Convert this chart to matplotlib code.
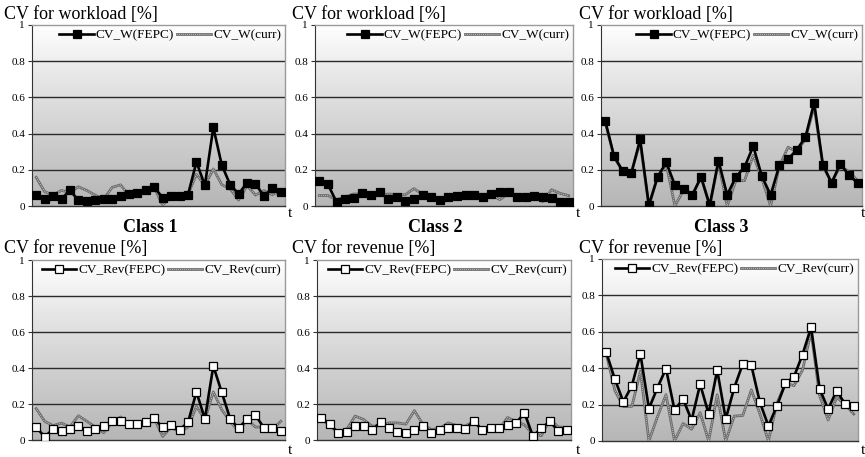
import numpy as np
import matplotlib
matplotlib.use("Agg")
import matplotlib.pyplot as plt
from matplotlib.colors import LinearSegmentedColormap
from matplotlib.lines import Line2D
from matplotlib.legend_handler import HandlerTuple

plt.rcParams['font.family'] = ['Liberation Serif', 'DejaVu Serif']

t = np.arange(1, 31)

# Coefficient of variation of workload, per class
w_fepc_1 = [0.060, 0.040, 0.055, 0.040, 0.086, 0.032, 0.027, 0.032, 0.040, 0.038,
            0.057, 0.065, 0.073, 0.086, 0.103, 0.046, 0.053, 0.053, 0.063, 0.243,
            0.114, 0.434, 0.227, 0.117, 0.067, 0.128, 0.124, 0.053, 0.101, 0.078]
w_curr_1 = [0.158, 0.079, 0.062, 0.086, 0.075, 0.106, 0.086, 0.060, 0.038, 0.103,
            0.117, 0.057, 0.065, 0.087, 0.100, 0.005, 0.055, 0.047, 0.065, 0.175,
            0.112, 0.205, 0.118, 0.095, 0.033, 0.113, 0.060, 0.085, 0.062, 0.085]
w_fepc_2 = [0.137, 0.120, 0.022, 0.039, 0.043, 0.073, 0.062, 0.075, 0.041, 0.049,
            0.027, 0.037, 0.061, 0.050, 0.031, 0.049, 0.058, 0.062, 0.062, 0.048,
            0.067, 0.075, 0.075, 0.048, 0.048, 0.056, 0.052, 0.043, 0.022, 0.022]
w_curr_2 = [0.058, 0.058, 0.035, 0.050, 0.066, 0.068, 0.054, 0.060, 0.066, 0.064,
            0.062, 0.096, 0.066, 0.053, 0.040, 0.053, 0.061, 0.061, 0.066, 0.053,
            0.060, 0.035, 0.070, 0.060, 0.055, 0.045, 0.025, 0.090, 0.070, 0.057]
w_fepc_3 = [0.468, 0.275, 0.193, 0.182, 0.369, 0.004, 0.160, 0.242, 0.114, 0.094,
            0.061, 0.160, 0.004, 0.251, 0.061, 0.160, 0.215, 0.330, 0.163, 0.061,
            0.224, 0.259, 0.310, 0.380, 0.571, 0.229, 0.127, 0.233, 0.171, 0.127]
w_curr_3 = [0.460, 0.270, 0.190, 0.190, 0.350, 0.000, 0.160, 0.230, 0.000, 0.090,
            0.060, 0.160, 0.000, 0.240, 0.000, 0.140, 0.140, 0.280, 0.150, 0.000,
            0.220, 0.325, 0.300, 0.370, 0.550, 0.220, 0.130, 0.220, 0.190, 0.140]

# Coefficient of variation of revenue, per class
r_fepc_1 = [0.072, 0.017, 0.061, 0.048, 0.061, 0.076, 0.050, 0.061, 0.076, 0.104,
            0.106, 0.087, 0.087, 0.098, 0.120, 0.070, 0.085, 0.057, 0.098, 0.267,
            0.117, 0.411, 0.265, 0.117, 0.065, 0.117, 0.139, 0.067, 0.067, 0.050]
r_curr_1 = [0.174, 0.104, 0.080, 0.094, 0.072, 0.135, 0.104, 0.072, 0.040, 0.098,
            0.128, 0.087, 0.087, 0.098, 0.120, 0.020, 0.072, 0.043, 0.072, 0.187,
            0.113, 0.267, 0.168, 0.104, 0.046, 0.113, 0.072, 0.072, 0.057, 0.104]
r_fepc_2 = [0.125, 0.088, 0.039, 0.047, 0.080, 0.080, 0.054, 0.099, 0.065, 0.047,
            0.039, 0.058, 0.080, 0.039, 0.054, 0.069, 0.069, 0.062, 0.103, 0.058,
            0.065, 0.065, 0.084, 0.092, 0.151, 0.021, 0.065, 0.103, 0.050, 0.058]
r_curr_2 = [0.121, 0.077, 0.047, 0.058, 0.133, 0.114, 0.077, 0.080, 0.095, 0.095,
            0.088, 0.163, 0.088, 0.058, 0.065, 0.095, 0.080, 0.077, 0.103, 0.058,
            0.065, 0.058, 0.125, 0.103, 0.084, 0.032, 0.024, 0.114, 0.073, 0.069]
r_fepc_3 = [0.487, 0.341, 0.215, 0.304, 0.478, 0.178, 0.293, 0.398, 0.170, 0.231,
            0.114, 0.312, 0.149, 0.390, 0.121, 0.293, 0.424, 0.416, 0.213, 0.083,
            0.193, 0.317, 0.353, 0.475, 0.625, 0.287, 0.175, 0.277, 0.201, 0.191]
r_curr_3 = [0.480, 0.278, 0.189, 0.190, 0.383, 0.000, 0.133, 0.255, 0.000, 0.096,
            0.065, 0.156, 0.000, 0.254, 0.000, 0.137, 0.140, 0.281, 0.150, 0.000,
            0.207, 0.318, 0.304, 0.390, 0.600, 0.250, 0.115, 0.240, 0.200, 0.148]

class_names = ["Class 1", "Class 2", "Class 3"]
yticks = [0, 0.2, 0.4, 0.6, 0.8, 1]
ytick_labels = ["0", "0.2", "0.4", "0.6", "0.8", "1"]

W, H = 865, 457
fig = plt.figure(figsize=(W / 100, H / 100), dpi=100)

def px_axes(x0, y0, x1, y1):
    return fig.add_axes([x0 / W, 1 - y1 / H, (x1 - x0) / W, (y1 - y0) / H])

bg_cmap = LinearSegmentedColormap.from_list(
    "bg", [(0.0, "#b6b6b6"), (0.35, "#cdcdcd"), (0.7, "#e6e6e6"), (1.0, "#ffffff")])

CURR_GREY = '#6e6e6e'

def panel(ax, fepc, curr, lab_fepc, lab_curr, marker_face):
    ax.set_xlim(0.5, 30.5)
    ax.set_ylim(0, 1)
    grad = np.linspace(0, 1, 256)[:, None]
    ax.imshow(grad, extent=[0.5, 30.5, 0, 1], aspect='auto', cmap=bg_cmap,
              origin='lower', zorder=0, interpolation='bilinear')
    for g in yticks[1:-1]:
        ax.axhline(g, color='#2a2a2a', lw=1.0, zorder=1)
    # current policy: grey line with a white dotted core
    ax.plot(t, curr, color=CURR_GREY, lw=2.0, zorder=3)
    ax.plot(t, curr, color='white', lw=0.5, dashes=(1.0, 1.8), zorder=3.5)
    ax.plot(t, fepc, color='black', lw=1.9, marker='s', ms=5.2,
            mfc=marker_face, mec='black', mew=0.9, zorder=4)
    ax.set_xticks([])
    ax.set_yticks(yticks)
    ax.set_yticklabels(ytick_labels, fontsize=8)
    ax.tick_params(axis='y', length=3, width=0.8, pad=2, color='#333333')
    for s in ('top', 'right'):
        ax.spines[s].set_color('#9a9a9a')
        ax.spines[s].set_linewidth(1.0)
    ax.spines['left'].set_color('#333333')
    ax.spines['bottom'].set_color('#333333')
    ax.spines['bottom'].set_linewidth(1.0)
    h_c = Line2D([], [], color=CURR_GREY, lw=2.0)
    h_c2 = Line2D([], [], color='white', lw=0.5, dashes=(1.0, 1.8))
    h_f = Line2D([], [], color='black', lw=1.9, marker='s', ms=5.2,
                 mfc=marker_face, mec='black', mew=0.9)
    ax.legend([h_f, (h_c, h_c2)], [lab_fepc, lab_curr], ncol=2, loc='upper right',
              frameon=False, fontsize=9.5, handlelength=2.6, handletextpad=0.15,
              columnspacing=0.2, borderaxespad=0.1, borderpad=0.2,
              handler_map={tuple: HandlerTuple(ndivide=1, pad=0)})

top_boxes = [(32, 25, 285, 206), (315, 25, 573, 206), (601, 25, 862, 206)]
bot_boxes = [(32, 260, 285, 440), (317, 260, 571, 440), (602, 259, 858, 441)]
title_x = [4, 292, 579]
w_fepc = [w_fepc_1, w_fepc_2, w_fepc_3]
w_curr = [w_curr_1, w_curr_2, w_curr_3]
r_fepc = [r_fepc_1, r_fepc_2, r_fepc_3]
r_curr = [r_curr_1, r_curr_2, r_curr_3]

for i in range(3):
    ax = px_axes(*top_boxes[i])
    panel(ax, w_fepc[i], w_curr[i], "CV_W(FEPC)", "CV_W(curr)", 'black')
    fig.text(title_x[i] / W, 1 - 18.5 / H, "CV for workload [%]", fontsize=13,
             ha='left', va='baseline')
    ax2 = px_axes(*bot_boxes[i])
    panel(ax2, r_fepc[i], r_curr[i], "CV_Rev(FEPC)", "CV_Rev(curr)", 'white')
    fig.text(title_x[i] / W, 1 - 252.5 / H, "CV for revenue [%]", fontsize=13,
             ha='left', va='baseline')

# time-axis markers and class captions
for x in (290, 578, 863):
    fig.text(x / W, 1 - 213 / H, "t", fontsize=11, ha='center', va='center')
    fig.text(x / W, 1 - 450 / H, "t", fontsize=11, ha='center', va='center')
for x, name in zip((150, 435, 721), class_names):
    fig.text(x / W, 1 - 227 / H, name, fontsize=13, fontweight='bold',
             ha='center', va='center')

fig.savefig("out.png", dpi=100)
